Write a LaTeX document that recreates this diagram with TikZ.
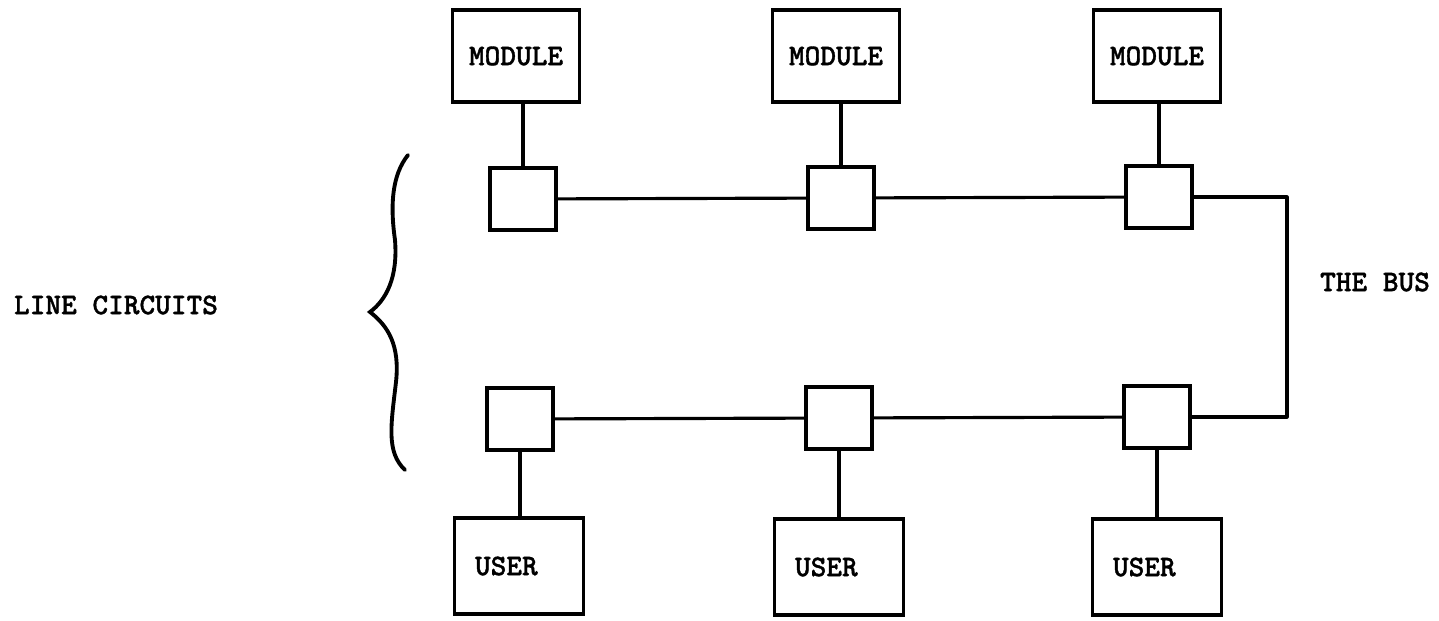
\documentclass[tikz,border=0pt]{standalone}
\usepackage{fontspec}
\newfontfamily\twfont{lmmonolt10-bold.otf}[FakeBold=1.2]
\usepackage{tikz}
\usetikzlibrary{positioning}

\tikzset{
  modbox/.style={ draw, line width=2pt, minimum width=2.54cm, minimum height=1.84cm, inner sep=0pt }
}
\tikzset{
  userbox/.style={ draw, line width=2pt, minimum width=2.58cm, minimum height=1.92cm, inner sep=0pt }
}
\tikzset{
  lcbox/.style={ draw, line width=2pt, minimum width=1.32cm, minimum height=1.24cm, inner sep=0pt }
}
\tikzset{
  wire/.style={ line width=1.8pt }
}
\tikzset{
  lbl/.style={ font=\fontsize{17}{20}\selectfont\twfont, inner sep=0pt }
}

\begin{document}
\begin{tikzpicture}[x=0.02cm, y=-0.02cm]
      \useasboundingbox (0,0) rectangle (1439,621);

      \node[modbox, lbl] (mod1) at (516, 56) {MODULE};
      \node[modbox, lbl] (mod2) at (836, 56) {MODULE};
      \node[modbox, lbl] (mod3) at (1157, 56) {MODULE};

      \node[lcbox] (lcT1) at (523, 199) {};
      \node[lcbox] (lcT2) at (841, 198) {};
      \node[lcbox] (lcT3) at (1159, 197) {};

      \node[lcbox] (lcB1) at (520, 419) {};
      \node[lcbox] (lcB2) at (839, 418) {};
      \node[lcbox] (lcB3) at (1157, 417) {};

      \node[userbox, lbl, text width=1.76cm] (usr1) at (519, 566) {USER};
      \node[userbox, lbl, text width=1.76cm] (usr2) at (839, 567) {USER};
      \node[userbox, lbl, text width=1.76cm] (usr3) at (1157, 567) {USER};

      \coordinate (busR) at (1287, 310);

      \node[lbl] (lines) at (116, 305) {LINE CIRCUITS};
      \node[lbl] (bus) at (1375, 282) {THE BUS};

      % module and user taps
      \foreach \i in {1,2,3} {
        \draw[wire] (lcT\i.north) -- (lcT\i.north |- mod\i.south);
        \draw[wire] (lcB\i.south) -- (lcB\i.south |- usr\i.north);
      }

      % the bus
      \draw[wire] (lcT1) -- (lcT2) -- (lcT3);
      \draw[wire] (lcB1) -- (lcB2) -- (lcB3);
      \draw[wire, line join=round] (lcT3.east) -| (busR) |- (lcB3.east);

      % brace round the line circuits
      \draw[line width=2.2pt, line cap=round]
        (408,155) .. controls (392,175) and (390,205) .. (395,240)
                  .. controls (398,278) and (386,300) .. (370,312)
                  .. controls (388,326) and (400,345) .. (396,382)
                  .. controls (391,425) and (386,452) .. (405,470);
    \end{tikzpicture}
\end{document}
